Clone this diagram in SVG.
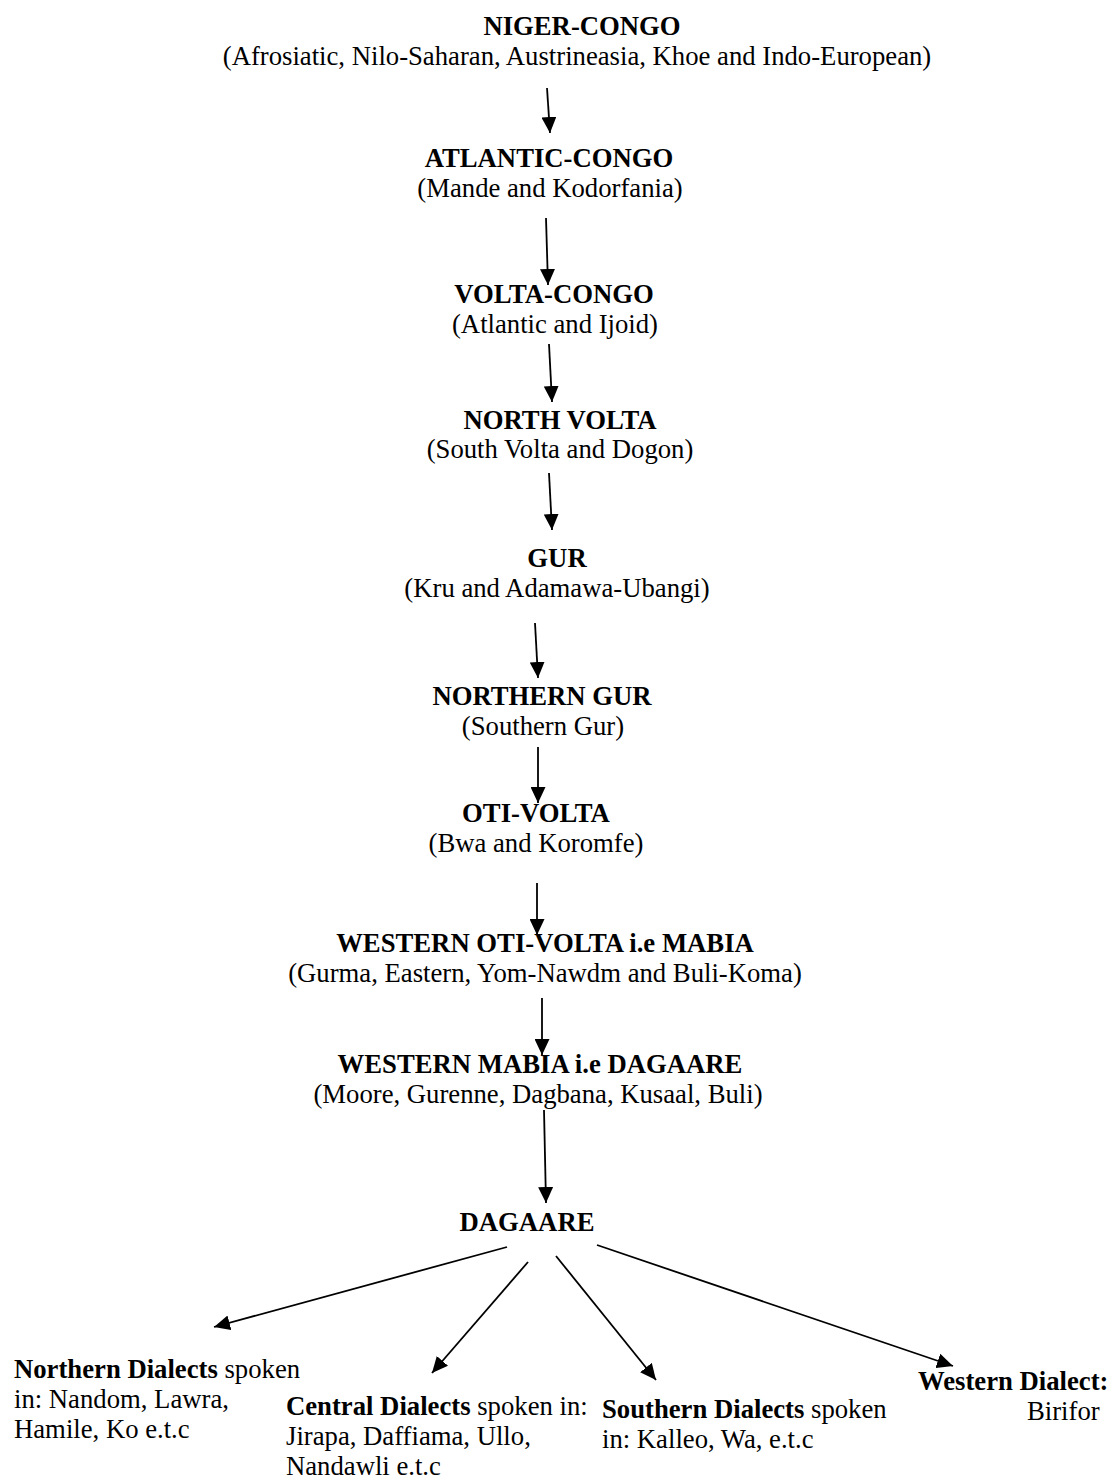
<svg xmlns="http://www.w3.org/2000/svg" width="1111" height="1479" viewBox="0 0 1111 1479">
<style>
  text { font-family: "Liberation Serif", "Times New Roman", serif; font-size: 26.7px; fill: #000; }
  .h { font-weight: bold; text-anchor: middle; }
  .s { text-anchor: middle; }
  .b { font-weight: bold; }
  .c line { stroke: #000; stroke-width: 1.8; marker-end: url(#ah); }
</style>
<defs>
  <marker id="ah" markerUnits="userSpaceOnUse" markerWidth="17" markerHeight="15" refX="16" refY="7.5" orient="auto">
    <path d="M0,0 L16,7.5 L0,15 z" fill="#000"/>
  </marker>
</defs>
<rect width="1111" height="1479" fill="#fff"/>

<g id="niger-congo">
  <text class="h" x="582" y="35">NIGER-CONGO</text>
  <text class="s" x="577" y="65">(Afrosiatic, Nilo-Saharan, Austrineasia, Khoe and Indo-European)</text>
</g>
<g id="atlantic-congo">
  <text class="h" x="549" y="167">ATLANTIC-CONGO</text>
  <text class="s" x="550" y="197">(Mande and Kodorfania)</text>
</g>
<g id="volta-congo">
  <text class="h" x="554" y="303">VOLTA-CONGO</text>
  <text class="s" x="555" y="333">(Atlantic and Ijoid)</text>
</g>
<g id="north-volta">
  <text class="h" x="560" y="429">NORTH VOLTA</text>
  <text class="s" x="560" y="458">(South Volta and Dogon)</text>
</g>
<g id="gur">
  <text class="h" x="557" y="567">GUR</text>
  <text class="s" x="557" y="597">(Kru and Adamawa-Ubangi)</text>
</g>
<g id="northern-gur">
  <text class="h" x="542" y="705">NORTHERN GUR</text>
  <text class="s" x="543" y="735">(Southern Gur)</text>
</g>
<g id="oti-volta">
  <text class="h" x="536" y="822">OTI-VOLTA</text>
  <text class="s" x="536" y="852">(Bwa and Koromfe)</text>
</g>
<g id="western-oti-volta">
  <text class="h" x="545" y="952">WESTERN OTI-VOLTA i.e MABIA</text>
  <text class="s" x="545" y="982">(Gurma, Eastern, Yom-Nawdm and Buli-Koma)</text>
</g>
<g id="western-mabia">
  <text class="h" x="540" y="1073">WESTERN MABIA i.e DAGAARE</text>
  <text class="s" x="538" y="1103">(Moore, Gurenne, Dagbana, Kusaal, Buli)</text>
</g>
<g id="dagaare">
  <text class="h" x="527" y="1231">DAGAARE</text>
</g>
<g id="northern-dialects">
  <text x="14" y="1378"><tspan class="b">Northern Dialects</tspan> spoken</text>
  <text x="14" y="1408">in: Nandom, Lawra,</text>
  <text x="14" y="1438">Hamile, Ko e.t.c</text>
</g>
<g id="central-dialects">
  <text x="286" y="1415"><tspan class="b">Central Dialects</tspan> spoken in:</text>
  <text x="286" y="1445">Jirapa, Daffiama, Ullo,</text>
  <text x="286" y="1475">Nandawli e.t.c</text>
</g>
<g id="southern-dialects">
  <text x="602" y="1418"><tspan class="b">Southern Dialects</tspan> spoken</text>
  <text x="602" y="1448">in: Kalleo, Wa, e.t.c</text>
</g>
<g id="western-dialect">
  <text class="b" x="918" y="1390">Western Dialect:</text>
  <text x="1027" y="1420">Birifor</text>
</g>

<g id="connectors" class="c">
  <line x1="547" y1="88" x2="550" y2="133"/>
  <line x1="546" y1="218" x2="548" y2="285"/>
  <line x1="549" y1="344" x2="552" y2="402"/>
  <line x1="549" y1="473" x2="552" y2="530"/>
  <line x1="535" y1="623" x2="538" y2="678"/>
  <line x1="538" y1="747" x2="538" y2="803"/>
  <line x1="537" y1="883" x2="537" y2="935"/>
  <line x1="542" y1="998" x2="542" y2="1055"/>
  <line x1="544" y1="1110" x2="546" y2="1203"/>
  <line x1="507" y1="1247" x2="214" y2="1327"/>
  <line x1="528" y1="1262" x2="432" y2="1373"/>
  <line x1="556" y1="1256" x2="656" y2="1380"/>
  <line x1="597" y1="1245" x2="953" y2="1366"/>
</g>
</svg>
